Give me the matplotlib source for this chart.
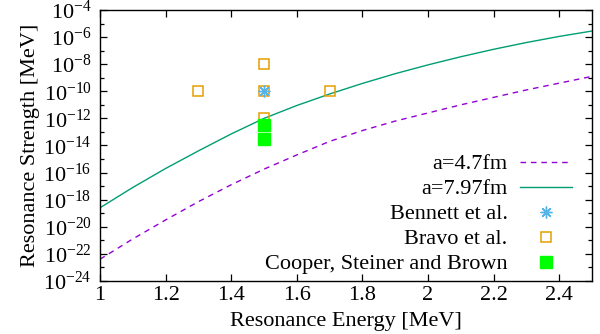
import matplotlib
matplotlib.use("Agg")
import matplotlib.pyplot as plt
from matplotlib.ticker import FixedLocator, FixedFormatter, NullFormatter

plt.rcParams['font.family'] = ['Liberation Serif', 'DejaVu Serif']
plt.rcParams['mathtext.fontset'] = 'custom'
plt.rcParams['mathtext.rm'] = 'Liberation Serif'
plt.rcParams['mathtext.it'] = 'Liberation Serif:italic'

# Curves: energy [MeV] and log10 of strength [MeV]
energy = [1.0, 1.1, 1.2, 1.3, 1.4, 1.5, 1.6, 1.7, 1.8, 1.9, 2.0, 2.1, 2.2, 2.3, 2.4, 2.5]
log_s_47 = [-22.4, -20.9, -19.5, -18.15, -16.9, -15.75, -14.7, -13.7, -12.9, -12.2,
            -11.6, -11.0, -10.45, -9.9, -9.4, -8.9]
log_s_797 = [-18.6, -17.1, -15.7, -14.4, -13.15, -12.0, -11.05, -10.2, -9.42, -8.7,
             -8.05, -7.45, -6.9, -6.4, -5.95, -5.55]

# Data points
bennett_e = [1.5]
bennett_s = [1e-10]
bravo_e = [1.3, 1.5, 1.5, 1.5, 1.7]
bravo_s = [1e-10, 1e-8, 1e-10, 1e-12, 1e-10]
cooper_e = [1.5, 1.5]
cooper_s = [3.2e-13, 3e-14]

x_ticks = [1.0, 1.2, 1.4, 1.6, 1.8, 2.0, 2.2, 2.4]
x_tick_labels = ['1', '1.2', '1.4', '1.6', '1.8', '2', '2.2', '2.4']
y_exps = [-4, -6, -8, -10, -12, -14, -16, -18, -20, -22, -24]

FS = 16

fig = plt.figure(figsize=(6.0, 3.34), dpi=100)
ax = fig.add_axes([0.1667, 0.159, 0.82, 0.811])

s47 = [10 ** v for v in log_s_47]
s797 = [10 ** v for v in log_s_797]

ax.plot(energy, s47, color='#9400d3', lw=1.0, ls=(0, (4, 3.5)), label='a=4.7fm')
ax.plot(energy, s797, color='#009e73', lw=1.0, ls='-', label='a=7.97fm')
ax.plot(bennett_e, bennett_s, ls='none', marker=(8, 2, 0), ms=8.5, mew=1.0,
        color='#56b4e9', label='Bennett et al.', zorder=5)
ax.plot(bravo_e, bravo_s, ls='none', marker='s', ms=7.5, mfc='none', mew=1.1,
        mec='#e69f00', label='Bravo et al.', zorder=4)
ax.plot(cooper_e, cooper_s, ls='none', marker='s', ms=8, mfc='#00ff00', mec='#00ff00',
        label='Cooper, Steiner and Brown', zorder=6)

ax.set_yscale('log')
ax.set_xlim(1.0, 2.5)
ax.set_ylim(1e-24, 1e-4)

ax.xaxis.set_major_locator(FixedLocator(x_ticks))
ax.xaxis.set_major_formatter(FixedFormatter(x_tick_labels))
ax.yaxis.set_major_locator(FixedLocator([10.0 ** e for e in y_exps]))
ax.yaxis.set_major_formatter(FixedFormatter(['$10^{%d}$' % e for e in y_exps]))
ax.yaxis.set_minor_locator(FixedLocator([10.0 ** (e - 1) for e in y_exps[:-1]]))
ax.yaxis.set_minor_formatter(NullFormatter())

ax.tick_params(which='both', direction='in', top=True, right=True, labelsize=FS)
ax.tick_params(which='major', length=5, width=0.9)
ax.tick_params(which='minor', length=3, width=0.9)
ax.tick_params(axis='x', pad=4)
ax.tick_params(axis='y', pad=6)
for sp in ax.spines.values():
    sp.set_linewidth(1.0)

ax.set_xlabel('Resonance Energy [MeV]', fontsize=FS, labelpad=5)
ax.set_ylabel('Resonance Strength [MeV]', fontsize=FS, labelpad=2)

leg = ax.legend(loc='lower right', bbox_to_anchor=(1.0, -0.05), frameon=False,
                markerfirst=False, fontsize=FS, handlelength=2.35, handletextpad=0.55,
                labelspacing=0.2, borderaxespad=0.5, numpoints=1)
for t in leg.get_texts():
    t.set_ha('right')

fig.savefig('out.png', dpi=100)
